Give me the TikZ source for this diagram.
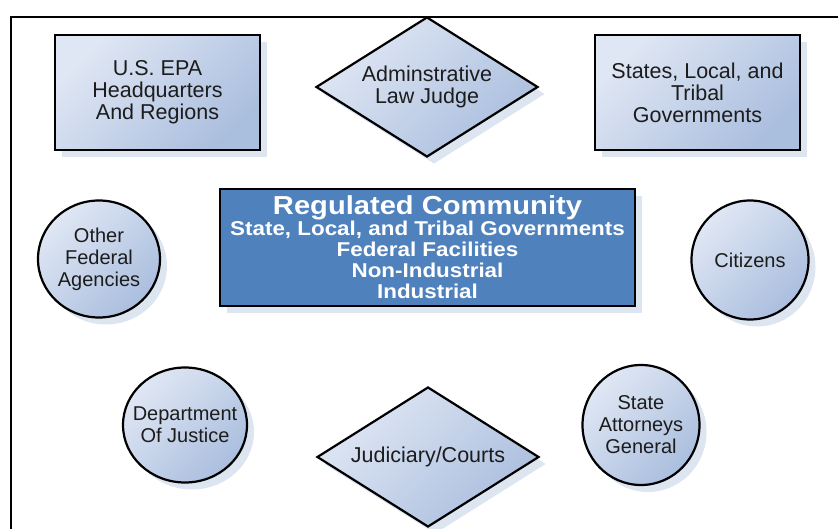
\documentclass[tikz,border=0pt]{standalone}
\usepackage{fontspec}
\setmainfont{Liberation Sans}
\usetikzlibrary{shapes.geometric,shadows}
\definecolor{paleblue}{HTML}{E0E7F4}
\definecolor{midblue}{HTML}{AABEDE}
\definecolor{coreblue}{HTML}{4F81BD}
\definecolor{shadeblue}{HTML}{D5DEEC}
\definecolor{ink}{HTML}{1C1C1C}
\tikzset{
  agent/.style={draw=black, line width=2.2pt, top color=paleblue, bottom color=midblue, shading angle=45,
    drop shadow={shadow xshift=7pt, shadow yshift=-7pt, fill=shadeblue, opacity=0.8}},
  inside/.style={align=center, text=ink, font=\fontsize{21.5}{22}\selectfont},
  ovaltext/.style={inside, font=\fontsize{20}{22}\selectfont},
  box/.style={agent, inside, rectangle, minimum width=205pt, minimum height=115pt},
  oval/.style={agent, ellipse, inner sep=0pt},
  judge/.style={agent, diamond, inner sep=0pt, minimum width=222pt, minimum height=140pt},
  core/.style={draw=black, line width=2.2pt, fill=coreblue, text=white, align=center, inner sep=1pt,
    font=\addfontfeatures{FakeStretch=1.12}\bfseries\fontsize{20}{21}\selectfont,
    minimum width=415pt, minimum height=117pt,
    drop shadow={shadow xshift=7pt, shadow yshift=-7pt, fill=shadeblue, opacity=0.8}}
}
\begin{document}
\begin{tikzpicture}[x=1pt,y=-1pt]
	\useasboundingbox (0,0) rectangle (838,529);
	%Frame
	\draw[line width=2.5pt] (11,529) -- (11,17) -- (838,17);
	%Top row
	\node[box] (epa) at (157.5,92.5) {U.S. EPA\\Headquarters\\And Regions};
	\node[judge, label={[inside]center:{Adminstrative\\Law Judge}}] (alj) at (427,87) {};
	\node[box] (states) at (697.5,92.5) {States, Local, and\\Tribal\\Governments};
	%Middle row
	\node[oval, minimum width=122pt, minimum height=117pt,
	  label={[ovaltext]center:{Other\\Federal\\Agencies}}] (ofa) at (99,259) {};
	\node[core] (reg) at (427.5,247.5) {{\fontsize{26}{30}\selectfont Regulated Community}\\State, Local, and Tribal Governments\\Federal Facilities\\Non-Industrial\\Industrial};
	\node[oval, minimum width=117pt, minimum height=119pt,
	  label={[ovaltext]center:Citizens}] (cit) at (750,260) {};
	%Bottom row
	\node[oval, minimum width=124pt, minimum height=115pt,
	  label={[ovaltext]center:{Department\\Of Justice}}] (doj) at (185,425) {};
	\node[judge, label={[inside]center:Judiciary/Courts}] (jud) at (428,457) {};
	\node[oval, minimum width=117pt, minimum height=120pt,
	  label={[ovaltext]center:{State\\Attorneys\\General}}] (sag) at (641,425) {};
\end{tikzpicture}
\end{document}
